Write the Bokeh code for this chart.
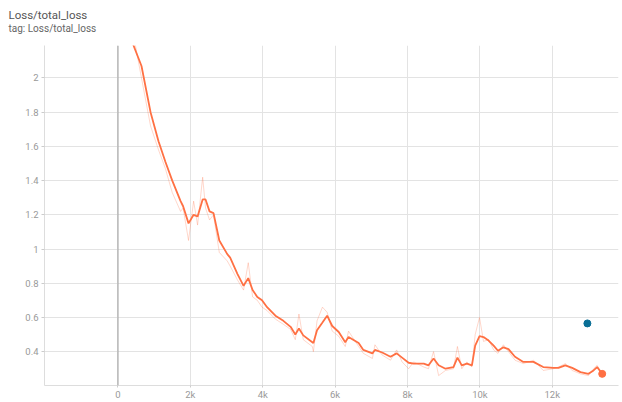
from bokeh.plotting import figure
from bokeh.models import Range1d, FixedTicker, CustomJSTickFormatter, Title, Span
from bokeh.embed import file_html
from bokeh.resources import INLINE

steps = [300, 430, 650, 900, 1120, 1310, 1500, 1730, 1800, 1950,
         2090, 2200, 2340, 2420, 2530, 2640, 2800, 3020, 3100, 3300,
         3470, 3600, 3720, 3850, 3980, 4120, 4350, 4570, 4770, 4900,
         5000, 5120, 5370, 5400, 5500, 5650, 5780, 5920, 6100, 6280,
         6370, 6650, 6780, 7030, 7100, 7300, 7530, 7700, 7850, 8030,
         8170, 8450, 8580, 8720, 8860, 9050, 9270, 9380, 9500, 9640,
         9780, 9870, 9990, 10100, 10240, 10380, 10500, 10650, 10790, 10970,
         11200, 11480, 11750, 12030, 12170, 12360, 12550, 12780, 13000, 13140,
         13240, 13380]
smoothed = [2.45, 2.19, 2.07, 1.80, 1.63, 1.51, 1.40, 1.28, 1.25, 1.15,
            1.20, 1.19, 1.29, 1.29, 1.22, 1.21, 1.05, 0.97, 0.95, 0.855,
            0.785, 0.83, 0.76, 0.72, 0.70, 0.66, 0.61, 0.58, 0.545, 0.50,
            0.535, 0.495, 0.455, 0.45, 0.525, 0.57, 0.61, 0.55, 0.515, 0.455,
            0.485, 0.45, 0.41, 0.39, 0.41, 0.395, 0.37, 0.39, 0.365, 0.335,
            0.33, 0.33, 0.32, 0.36, 0.32, 0.30, 0.31, 0.365, 0.32, 0.33,
            0.32, 0.435, 0.49, 0.485, 0.465, 0.435, 0.405, 0.425, 0.415, 0.37,
            0.34, 0.34, 0.31, 0.305, 0.305, 0.32, 0.305, 0.28, 0.27, 0.29,
            0.31, 0.27]
raw = [2.50, 2.25, 2.00, 1.72, 1.58, 1.47, 1.33, 1.22, 1.24, 1.05,
       1.28, 1.14, 1.42, 1.24, 1.17, 1.20, 0.98, 0.93, 0.90, 0.82,
       0.76, 0.92, 0.72, 0.70, 0.66, 0.64, 0.59, 0.56, 0.53, 0.47,
       0.62, 0.47, 0.43, 0.40, 0.58, 0.66, 0.63, 0.52, 0.49, 0.43,
       0.52, 0.43, 0.39, 0.36, 0.44, 0.38, 0.35, 0.41, 0.34, 0.30,
       0.34, 0.31, 0.30, 0.40, 0.26, 0.29, 0.30, 0.43, 0.30, 0.34,
       0.31, 0.50, 0.60, 0.46, 0.47, 0.41, 0.39, 0.44, 0.40, 0.35,
       0.33, 0.35, 0.29, 0.30, 0.31, 0.33, 0.29, 0.27, 0.26, 0.30,
       0.32, 0.26]
eval_step = [12970]
eval_loss = [0.565]
x_ticks = [0, 2000, 4000, 6000, 8000, 10000, 12000]
y_ticks = [0.4, 0.6, 0.8, 1.0, 1.2, 1.4, 1.6, 1.8, 2.0]
title_text = "Loss/total_loss"
subtitle_text = "tag: Loss/total_loss"

p = figure(width=622, height=402, output_backend="svg", toolbar_location=None,
           x_range=Range1d(-2030, 13830), y_range=Range1d(0.202, 2.19),
           min_border_left=44, min_border_right=4, min_border_top=0, min_border_bottom=16)
p.outline_line_color = None
p.background_fill_color = "white"
p.border_fill_color = "white"

gap = Title(text=" ", text_font_size="4px", standoff=2)
sub = Title(text=subtitle_text, text_font_size="10px", text_color="#666666",
            text_font="Roboto", text_font_style="normal", offset=-36, standoff=2,
            vertical_align="top")
main = Title(text=title_text, text_font_size="11.5px", text_color="#555555",
             text_font="Roboto", text_font_style="normal", offset=-36, standoff=0)
top_pad = Title(text=" ", text_font_size="1px", standoff=2)
p.add_layout(gap, "above")
p.add_layout(sub, "above")
p.add_layout(main, "above")
p.add_layout(top_pad, "above")

p.line(steps, raw, line_color="#ff7043", line_alpha=0.28, line_width=1)
p.line(steps, smoothed, line_color="#ff7043", line_width=1.8)
p.scatter(steps[-1:], smoothed[-1:], size=7, color="#ff7043")
p.scatter(eval_step, eval_loss, size=7, color="#0a6f96")

zero = Span(location=0, dimension="height", line_color="#aaaaaa", line_width=1.2)
p.add_layout(zero)

p.xaxis.ticker = FixedTicker(ticks=x_ticks)
p.yaxis.ticker = FixedTicker(ticks=y_ticks)
p.xaxis.formatter = CustomJSTickFormatter(code="return tick == 0 ? '0' : (tick/1000) + 'k';")
p.yaxis.formatter = CustomJSTickFormatter(code="return String(Math.round(tick*10)/10);")
for ax in (p.xaxis, p.yaxis):
    ax.axis_line_color = "#dddddd"
    ax.major_tick_line_color = "#cccccc"
    ax.minor_tick_line_color = None
    ax.major_tick_in = 0
    ax.major_tick_out = 3
    ax.major_label_text_font = "Roboto"
    ax.major_label_text_font_size = "9.5px"
    ax.major_label_text_color = "#999999"
p.xaxis.major_tick_out = 2
p.yaxis.major_label_standoff = 3
p.xaxis.major_label_standoff = 1
p.grid.grid_line_color = "#e3e3e3"
p.grid.grid_line_width = 1

open("out.html", "w").write(file_html(p, INLINE))
